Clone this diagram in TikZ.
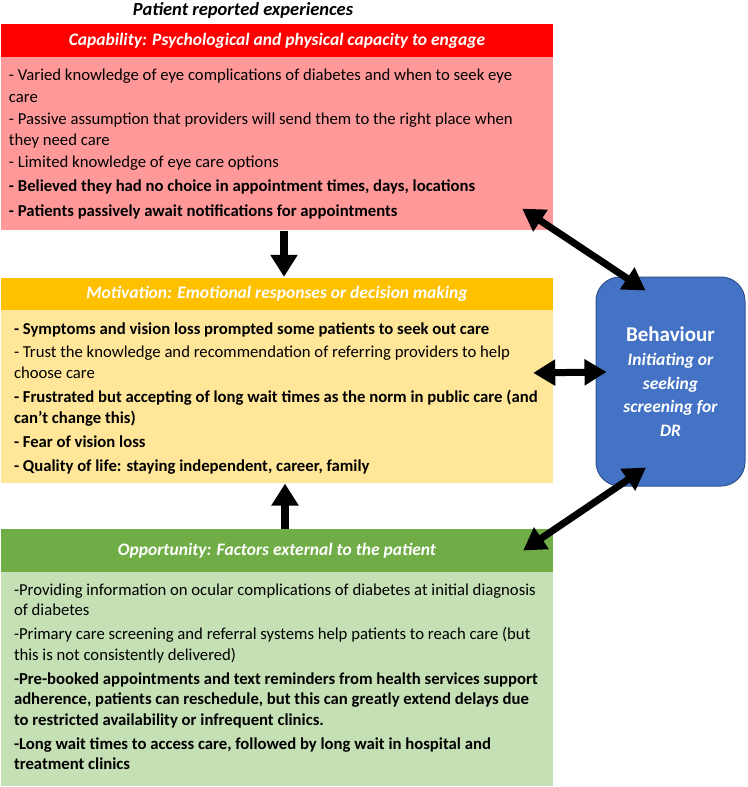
\documentclass[tikz,border=0pt]{standalone}
\usepackage{fontspec}
\setmainfont{Carlito}
\usepackage{tikz}
\usetikzlibrary{arrows.meta, positioning, calc}

\definecolor{capred}{HTML}{FF0000}
\definecolor{cappink}{HTML}{FF9999}
\definecolor{motorange}{HTML}{FFC000}
\definecolor{motyellow}{HTML}{FFE699}
\definecolor{oppgreen}{HTML}{70AD47}
\definecolor{opplight}{HTML}{C5E0B4}
\definecolor{behblue}{HTML}{4472C4}
\definecolor{behedge}{HTML}{2F528F}

\tikzset{
  header/.style={rectangle, minimum width=552pt, minimum height=#1, inner sep=0pt, text=white, font=\fontsize{17.5}{20}\selectfont\bfseries\itshape},
  panel/.style={rectangle, minimum width=552pt, minimum height=#1, inner sep=0pt, anchor=north},
  items/.style={anchor=north west, align=left, inner sep=0pt, font=\fontsize{16.7}{21}\selectfont},
  link/.style={line width=7pt, {Triangle[length=22pt,width=25pt]}-{Triangle[length=22pt,width=25pt]}},
  push/.style={line width=8pt, -{Triangle[length=22pt,width=26pt]}}
}

\begin{document}
\begin{tikzpicture}[x=1pt, y=-1pt]
\useasboundingbox (0,0) rectangle (747,787);

\node (title) at (243,10) {\fontsize{18.5}{20}\selectfont\bfseries\itshape Patient reported experiences};

% capability
\node (caphead) [header=33pt, fill=capred] at (277,40.5) {Capability: Psychological and physical capacity to engage};
\node (capbody) [panel=173pt, fill=cappink] at (caphead.south) {};
\node (captext) [items, font=\fontsize{16.7}{21.5}\selectfont] at ($(capbody.north west)+(8,12)$) {%
- Varied knowledge of eye complications of diabetes and when to seek eye\\
care\\[0.5pt]
- Passive assumption that providers will send them to the right place when\\
they need care\\[0.5pt]
- Limited knowledge of eye care options\\[2.5pt]
\textbf{- Believed they had no choice in appointment times, days, locations}\\[3.5pt]
\textbf{- Patients passively await notifications for appointments}};

% motivation
\node (mothead) [header=32pt, fill=motorange] at (277,294) {Motivation: Emotional responses or decision making};
\node (motbody) [panel=173pt, fill=motyellow] at (mothead.south) {};
\node (mottext) [items] at ($(motbody.north west)+(13,12)$) {%
\textbf{- Symptoms and vision loss prompted some patients to seek out care}\\[2pt]
- Trust the knowledge and recommendation of referring providers to help\\
choose care\\[3pt]
\textbf{- Frustrated but accepting of long wait times as the norm in public care (and}\\
\textbf{can’t change this)}\\[3pt]
\textbf{- Fear of vision loss}\\[3pt]
\textbf{- Quality of life: staying independent, career, family}};

% opportunity
\node (opphead) [header=43pt, fill=oppgreen] at (277,550.5) {Opportunity: Factors external to the patient};
\node (oppbody) [panel=214pt, fill=opplight] at (opphead.south) {};
\node (opptext) [items, font=\fontsize{16.7}{20.5}\selectfont] at ($(oppbody.north west)+(13,11)$) {%
-Providing information on ocular complications of diabetes at initial diagnosis\\
of diabetes\\[3.5pt]
-Primary care screening and referral systems help patients to reach care (but\\
this is not consistently delivered)\\[3.5pt]
\textbf{-Pre-booked appointments and text reminders from health services support}\\
\textbf{adherence, patients can reschedule, but this can greatly extend delays due}\\
\textbf{to restricted availability or infrequent clinics.}\\[3.5pt]
\textbf{-Long wait times to access care, followed by long wait in hospital and}\\
\textbf{treatment clinics}};

% behaviour
\node (behav) [rectangle, rounded corners=24pt, fill=behblue, draw=behedge, line width=1pt,
  minimum width=149pt, minimum height=209pt, text=white, align=center,
  font=\fontsize{17.5}{23.5}\selectfont\bfseries\itshape] at (670.5,381.5) {%
  {\fontsize{21}{24}\selectfont\upshape Behaviour}\\[1pt]
  Initiating or\\
  seeking\\
  screening for\\
  DR};

\draw [push] ($(capbody.south)+(7,0)$) -- ($(mothead.north)+(7,-1)$);
\draw [push] ($(opphead.north)+(8,0)$) -- ($(motbody.south)+(8,0)$);
\draw [link] ($(capbody.south east)+(-31,-22)$) -- ($(behav.north)+(-25,14)$);
\draw [link] ($(motbody.east)+(-20,-24)$) -- ($(behav.west)+(11,-9.5)$);
\draw [link] ($(opphead.east)+(-30,0)$) -- ($(behav.south)+(-24.5,-19)$);
\end{tikzpicture}
\end{document}
